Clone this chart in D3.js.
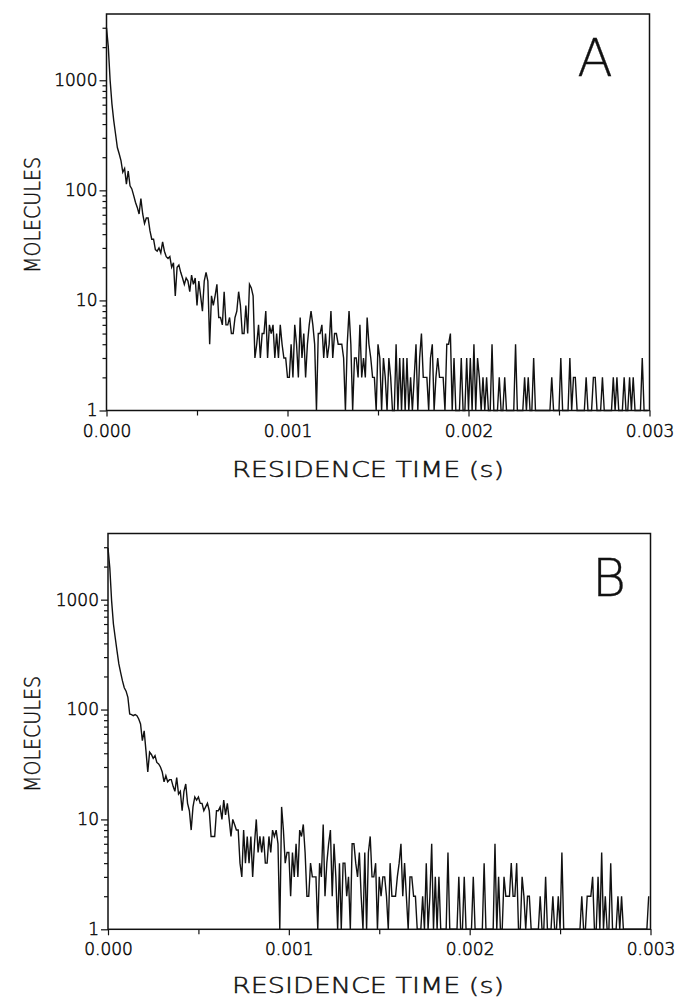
<!DOCTYPE html>
<html>
<head>
<meta charset="utf-8">
<script src="https://cdn.jsdelivr.net/npm/d3@7"></script>
<style>
  html, body { margin: 0; padding: 0; background: #fff; }
  svg { display: block; }
  text { font-family: "DejaVu Sans", sans-serif; fill: #111; }
</style>
</head>
<body>
<svg id="chart" width="678" height="998"></svg>
<script>
// ---------------- data ----------------
const binWidth = 1e-5;            // residence-time bin (s)
const xTicksMajor = [0, 0.001, 0.002, 0.003];
const xTicksMinor = [0.0005, 0.0015, 0.0025];
const yTicksMajor = [1, 10, 100, 1000];
const yTickLabels = ["1", "10", "100", "1000"];
const panelLabels = ["A", "B"];
const xTitle = "RESIDENCE TIME (s)";
const yTitle = "MOLECULES";

// Panel A counts per bin (zero counts drawn on the bottom axis as 1)
const countsA = [
  3000,2000,1000,610,430,325,245,215,186,146,
  158,114,150,110,103,90,78,70,61,84,
  61,50,56,56,43,36,36,29,28,30,
  27,34,28,25,24,25,20,22,11,20,
  21,18,16,14,16,15,12,17,14,16,
  9,15,11,8,15,18,15,4,11,9,
  11,14,7,7,6,12,6,6,7,5,
  5,7,8,12,9,5,5,9,5,14,
  13,11,3,4,6,3,5,5,8,3,
  6,5,6,3,5,3,6,4,3,3,
  2,
  2,4,2,6,4,2,7,3,5,2,
  4,6,8,6,4,1,5,5,6,3,
  5,3,4,8,3,5,5,4,4,4,
  3,1,4,8,4,1,3,3,2,6,
  2,3,2,7,4,3,2,2,1,4,
  3,1,3,2,1,3,2,1,1,4,
  1,3,1,3,1,3,1,2,1,2,
  4,1,3,5,2,2,2,1,3,4,
  1,2,3,2,2,2,1,4,4,5,
  1,3,1,1,1,3,1,1,3,1,
  3,1,4,1,3,2,1,2,1,2,
  1,1,4,1,1,1,2,1,1,2,
  1,1,1,1,1,4,1,1,1,1,
  2,1,2,1,1,3,1,1,1,1,
  1,1,1,1,1,2,1,1,1,1,
  3,1,1,1,1,3,1,2,2,1,
  1,1,1,1,2,1,1,1,2,2,
  1,1,1,2,1,1,1,1,1,2,
  1,2,1,1,1,2,1,1,2,1,
  2,1,1,1,1,3,1,1,1
];

// Panel B counts per bin
const countsB = [
  2950,1950,975,600,450,340,260,217,182,158,
  147,129,91,90,88,90,88,82,74,52,
  64,42,27,41,39,36,38,33,32,30,
  27,22,25,22,23,23,20,18,24,17,
  18,12,18,21,14,12,8,13,16,15,
  16,14,14,12,13,14,12,7,7,7,
  12,12,13,10,15,11,14,10,7,10,
  9,8,8,4,3,8,4,7,4,7,
  3,6,10,5,7,5,7,4,4,7,
  5,8,7,8,6,1,13,8,4,5,
  5,
  2,5,3,6,3,8,7,9,5,2,
  2,4,3,3,3,1,4,3,9,2,
  4,6,8,2,6,3,1,4,1,4,
  4,2,3,1,6,6,4,3,5,2,
  1,5,1,5,7,3,3,4,1,3,
  2,3,3,2,1,4,2,2,2,3,
  4,6,2,4,2,1,3,3,2,2,
  1,1,1,2,1,4,1,2,6,1,
  3,1,3,1,1,1,1,5,1,1,
  1,1,1,3,1,1,3,1,1,1,
  1,3,1,1,1,1,1,4,1,1,
  1,1,1,6,1,3,1,1,3,2,
  2,2,4,2,2,4,1,1,3,2,
  1,2,2,1,1,1,1,1,2,1,
  1,3,1,1,1,2,1,1,2,1,
  5,1,1,1,1,1,1,1,1,1,
  1,2,1,1,2,2,2,3,1,1,
  3,1,5,1,2,1,1,4,1,1,
  1,2,1,2,1,1,1,1,1,1,
  1,1,1,1,1,1,1,1,2
];

// ---------------- layout ----------------
const svg = d3.select("#chart");
const panels = [
  { counts: countsA, label: panelLabels[0], x0: 106.5, x1: 649.5, yTop: 14, yBot: 410.5,
    letterX: 595, letterY: 76, xTitleY: 477, yTitleY: 215 },
  { counts: countsB, label: panelLabels[1], x0: 108, x1: 650.5, yTop: 533.5, yBot: 929.3,
    letterX: 609, letterY: 596, xTitleY: 993, yTitleY: 734 }
];

const font = "'DejaVu Sans', sans-serif";
const thin = 200;

function darken(sel, w) {
  sel.attr("fill", "#000").attr("stroke", "#000").attr("stroke-width", w)
     .attr("paint-order", "stroke");
}

panels.forEach(p => {
  const x = d3.scaleLinear().domain([0, 0.003]).range([p.x0, p.x1]);
  const y = d3.scaleLog().domain([1, 4000]).range([p.yBot, p.yTop]);
  const g = svg.append("g");

  // frame
  g.append("rect")
    .attr("x", p.x0).attr("y", p.yTop)
    .attr("width", p.x1 - p.x0).attr("height", p.yBot - p.yTop)
    .attr("fill", "none").attr("stroke", "#111").attr("stroke-width", 1.5);

  // y axis: major + minor ticks
  const yMinor = [];
  for (let d = 1; d <= 1000; d *= 10)
    for (let m = 2; m <= 9; m++) if (d * m < 4000) yMinor.push(d * m);

  const yAxisMinor = d3.axisLeft(y).tickValues(yMinor).tickSize(4).tickFormat("");
  const yAxisMajor = d3.axisLeft(y).tickValues(yTicksMajor).tickSize(7).tickPadding(2)
    .tickFormat((d, i) => yTickLabels[i]);
  [yAxisMinor, yAxisMajor].forEach(ax => {
    const a = g.append("g").attr("transform", `translate(${p.x0},0)`).call(ax);
    a.select(".domain").remove();
    a.selectAll("line").attr("stroke", "#111").attr("stroke-width", 1.2);
    a.selectAll("text").attr("font-size", 17).attr("font-family", font)
      .attr("font-weight", thin).call(darken, 0.5);
  });

  // x axis
  const xAxisMinor = d3.axisBottom(x).tickValues(xTicksMinor).tickSize(5).tickFormat("");
  const xAxisMajor = d3.axisBottom(x).tickValues(xTicksMajor).tickSize(6).tickPadding(8)
    .tickFormat(d3.format(".3f"));
  [xAxisMinor, xAxisMajor].forEach(ax => {
    const a = g.append("g").attr("transform", `translate(0,${p.yBot})`).call(ax);
    a.select(".domain").remove();
    a.selectAll("line").attr("stroke", "#111").attr("stroke-width", 1.2);
    a.selectAll("text").attr("font-size", 17).attr("font-family", font)
      .attr("font-weight", thin).call(darken, 0.5);
  });

  // data line
  const line = d3.line()
    .x((d, i) => x(i * binWidth))
    .y(d => y(Math.max(1, d)));
  g.append("path")
    .datum(p.counts)
    .attr("d", line)
    .attr("fill", "none")
    .attr("stroke", "#111")
    .attr("stroke-width", 1.4)
    .attr("stroke-linejoin", "miter");

  // titles
  g.append("text")
    .attr("x", 368).attr("y", p.xTitleY)
    .attr("text-anchor", "middle").attr("font-size", 22)
    .attr("font-family", font).attr("font-weight", thin)
    .attr("textLength", 272).attr("lengthAdjust", "spacingAndGlyphs")
    .call(darken, 0.45)
    .text(xTitle);
  g.append("text")
    .attr("transform", `translate(40,${p.yTitleY}) rotate(-90)`)
    .attr("text-anchor", "middle").attr("font-size", 22)
    .attr("font-family", font).attr("font-weight", thin)
    .attr("textLength", 116).attr("lengthAdjust", "spacingAndGlyphs")
    .call(darken, 0.45)
    .text(yTitle);

  // panel letter
  g.append("text")
    .attr("x", p.letterX).attr("y", p.letterY)
    .attr("text-anchor", "middle").attr("font-size", 52)
    .attr("font-family", font).attr("font-weight", thin)
    .call(darken, 0.3)
    .text(p.label);
});
</script>
</body>
</html>
